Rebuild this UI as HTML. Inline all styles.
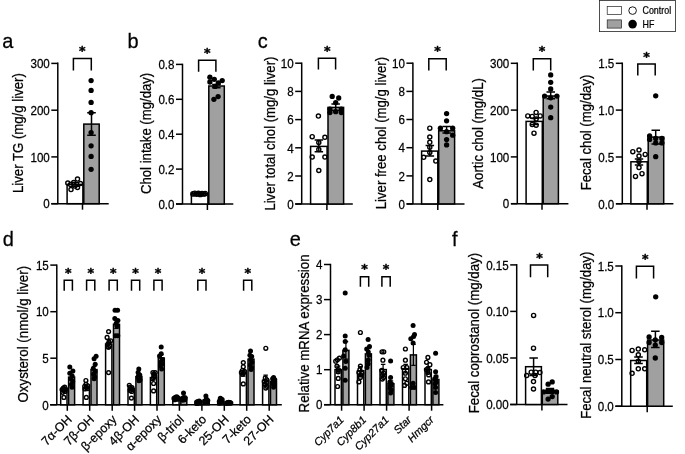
<!DOCTYPE html>
<html lang="en">
<head>
<meta charset="utf-8">
<title>Figure</title>
<style>
html,body{margin:0;padding:0;background:#fff;}
svg{display:block;}
svg text{font-family:"Liberation Sans", Arial, sans-serif;fill:#000;stroke:#000;stroke-width:0.25px;}
svg text.st{font-family:"DejaVu Sans","Liberation Sans",sans-serif;font-weight:bold;stroke-width:0.45px;}
</style>
</head>
<body>
<svg width="685" height="454" viewBox="0 0 685 454">
<rect x="0" y="0" width="685" height="454" fill="#fff"/>
<text transform="translate(2.3 48.4) scale(0.96 1)" font-size="20.8" text-anchor="start">a</text>
<path d="M57.8 62.6V203.7" fill="none" stroke="#000" stroke-width="1.5"/>
<path d="M51.3 203.7H108.7" fill="none" stroke="#000" stroke-width="1.5"/>
<line x1="51.3" y1="63.4" x2="57.8" y2="63.4" stroke="#000" stroke-width="1.5"/>
<text transform="translate(49.8 68.1) scale(0.892 1)" font-size="13" text-anchor="end">300</text>
<line x1="51.3" y1="110.2" x2="57.8" y2="110.2" stroke="#000" stroke-width="1.5"/>
<text transform="translate(49.8 114.9) scale(0.892 1)" font-size="13" text-anchor="end">200</text>
<line x1="51.3" y1="156.9" x2="57.8" y2="156.9" stroke="#000" stroke-width="1.5"/>
<text transform="translate(49.8 161.6) scale(0.892 1)" font-size="13" text-anchor="end">100</text>
<line x1="51.3" y1="203.7" x2="57.8" y2="203.7" stroke="#000" stroke-width="1.5"/>
<text transform="translate(49.8 208.4) scale(0.892 1)" font-size="13" text-anchor="end">0</text>
<line x1="82.5" y1="203.7" x2="82.5" y2="209.7" stroke="#000" stroke-width="1.5"/>
<rect x="67.1" y="184.4" width="15.8" height="19.3" fill="#fff" stroke="#000" stroke-width="1.5"/>
<rect x="83.8" y="124.1" width="15.4" height="79.6" fill="#a0a0a0" stroke="#000" stroke-width="1.5"/>
<path d="M87.2 112.7H95.8M87.2 135.2H95.8M91.5 112.7V135.2" fill="none" stroke="#000" stroke-width="1.5"/>
<path d="M70.8 182.6H79.2M70.8 186.2H79.2M75.0 182.6V186.2" fill="none" stroke="#000" stroke-width="1.5"/>
<circle cx="91.1" cy="80.6" r="2.65" fill="#000"/>
<circle cx="91.1" cy="90.4" r="2.65" fill="#000"/>
<circle cx="91.1" cy="102.4" r="2.65" fill="#000"/>
<circle cx="91.1" cy="112.7" r="2.65" fill="#000"/>
<circle cx="91.1" cy="132.6" r="2.65" fill="#000"/>
<circle cx="91.1" cy="145.8" r="2.65" fill="#000"/>
<circle cx="91.1" cy="156.4" r="2.65" fill="#000"/>
<circle cx="91.1" cy="169.3" r="2.65" fill="#000"/>
<circle cx="67.8" cy="183.1" r="2.05" fill="none" stroke="#000" stroke-width="1.4"/>
<circle cx="70.5" cy="184.4" r="2.05" fill="none" stroke="#000" stroke-width="1.4"/>
<circle cx="73.7" cy="182.6" r="2.05" fill="none" stroke="#000" stroke-width="1.4"/>
<circle cx="77.5" cy="179.1" r="2.05" fill="none" stroke="#000" stroke-width="1.4"/>
<circle cx="80.5" cy="183.5" r="2.05" fill="none" stroke="#000" stroke-width="1.4"/>
<circle cx="71.0" cy="189.6" r="2.05" fill="none" stroke="#000" stroke-width="1.4"/>
<circle cx="74.9" cy="186.1" r="2.05" fill="none" stroke="#000" stroke-width="1.4"/>
<circle cx="77.5" cy="187.4" r="2.05" fill="none" stroke="#000" stroke-width="1.4"/>
<path d="M73.4 70.5V58.5H91.3V70.5" fill="none" stroke="#000" stroke-width="1.5"/>
<text x="82.3" y="55.4" font-size="12.5" text-anchor="middle" class="st" stroke="#000" stroke-width="0.45">*</text>
<text transform="translate(23.0 133.1) rotate(-90) scale(0.95 1)" font-size="13.89" text-anchor="middle">Liver TG (mg/g liver)</text>
<text transform="translate(127.5 48.4) scale(0.96 1)" font-size="20.8" text-anchor="start">b</text>
<path d="M182.5 63.7V204.0" fill="none" stroke="#000" stroke-width="1.5"/>
<path d="M176.0 204.0H233.3" fill="none" stroke="#000" stroke-width="1.5"/>
<line x1="176.0" y1="64.4" x2="182.5" y2="64.4" stroke="#000" stroke-width="1.5"/>
<text transform="translate(174.5 69.1) scale(0.892 1)" font-size="13" text-anchor="end">0.8</text>
<line x1="176.0" y1="99.3" x2="182.5" y2="99.3" stroke="#000" stroke-width="1.5"/>
<text transform="translate(174.5 104.0) scale(0.892 1)" font-size="13" text-anchor="end">0.6</text>
<line x1="176.0" y1="134.2" x2="182.5" y2="134.2" stroke="#000" stroke-width="1.5"/>
<text transform="translate(174.5 138.9) scale(0.892 1)" font-size="13" text-anchor="end">0.4</text>
<line x1="176.0" y1="169.1" x2="182.5" y2="169.1" stroke="#000" stroke-width="1.5"/>
<text transform="translate(174.5 173.8) scale(0.892 1)" font-size="13" text-anchor="end">0.2</text>
<line x1="176.0" y1="204.0" x2="182.5" y2="204.0" stroke="#000" stroke-width="1.5"/>
<text transform="translate(174.5 208.7) scale(0.892 1)" font-size="13" text-anchor="end">0.0</text>
<line x1="207.4" y1="204.0" x2="207.4" y2="210.0" stroke="#000" stroke-width="1.5"/>
<rect x="191.4" y="193.7" width="16.5" height="10.3" fill="#fff" stroke="#000" stroke-width="1.5"/>
<rect x="208.8" y="86.0" width="15.5" height="118.0" fill="#a0a0a0" stroke="#000" stroke-width="1.5"/>
<path d="M212.1 84.5H220.6M212.1 87.8H220.6M216.3 84.5V87.8" fill="none" stroke="#000" stroke-width="1.5"/>
<circle cx="209.9" cy="77.2" r="2.65" fill="#000"/>
<circle cx="214.3" cy="79.3" r="2.65" fill="#000"/>
<circle cx="222.2" cy="80.6" r="2.65" fill="#000"/>
<circle cx="209.9" cy="82.0" r="2.65" fill="#000"/>
<circle cx="218.3" cy="82.9" r="2.65" fill="#000"/>
<circle cx="215.2" cy="86.4" r="2.65" fill="#000"/>
<circle cx="218.1" cy="96.6" r="2.65" fill="#000"/>
<circle cx="213.9" cy="99.3" r="2.65" fill="#000"/>
<circle cx="193.0" cy="193.9" r="2.15" fill="none" stroke="#000" stroke-width="1.4"/>
<circle cx="194.8" cy="193.3" r="2.15" fill="none" stroke="#000" stroke-width="1.4"/>
<circle cx="196.6" cy="194.1" r="2.15" fill="none" stroke="#000" stroke-width="1.4"/>
<circle cx="198.4" cy="193.4" r="2.15" fill="none" stroke="#000" stroke-width="1.4"/>
<circle cx="200.2" cy="194.4" r="2.15" fill="none" stroke="#000" stroke-width="1.4"/>
<circle cx="202.0" cy="193.5" r="2.15" fill="none" stroke="#000" stroke-width="1.4"/>
<circle cx="203.6" cy="194.0" r="2.15" fill="none" stroke="#000" stroke-width="1.4"/>
<circle cx="205.2" cy="193.6" r="2.15" fill="none" stroke="#000" stroke-width="1.4"/>
<path d="M198.6 71.8V60.3H215.9V71.8" fill="none" stroke="#000" stroke-width="1.5"/>
<text x="207.2" y="56.9" font-size="12.5" text-anchor="middle" class="st" stroke="#000" stroke-width="0.45">*</text>
<text transform="translate(151.3 133.4) rotate(-90) scale(0.95 1)" font-size="13.84" text-anchor="middle">Chol intake (mg/day)</text>
<text transform="translate(257.8 48.4) scale(0.96 1)" font-size="20.8" text-anchor="start">c</text>
<path d="M301.7 62.5V204.0" fill="none" stroke="#000" stroke-width="1.5"/>
<path d="M295.2 204.0H352.8" fill="none" stroke="#000" stroke-width="1.5"/>
<line x1="295.2" y1="63.2" x2="301.7" y2="63.2" stroke="#000" stroke-width="1.5"/>
<text transform="translate(293.7 67.9) scale(0.892 1)" font-size="13" text-anchor="end">10</text>
<line x1="295.2" y1="91.4" x2="301.7" y2="91.4" stroke="#000" stroke-width="1.5"/>
<text transform="translate(293.7 96.1) scale(0.892 1)" font-size="13" text-anchor="end">8</text>
<line x1="295.2" y1="119.6" x2="301.7" y2="119.6" stroke="#000" stroke-width="1.5"/>
<text transform="translate(293.7 124.3) scale(0.892 1)" font-size="13" text-anchor="end">6</text>
<line x1="295.2" y1="147.8" x2="301.7" y2="147.8" stroke="#000" stroke-width="1.5"/>
<text transform="translate(293.7 152.5) scale(0.892 1)" font-size="13" text-anchor="end">4</text>
<line x1="295.2" y1="176.0" x2="301.7" y2="176.0" stroke="#000" stroke-width="1.5"/>
<text transform="translate(293.7 180.7) scale(0.892 1)" font-size="13" text-anchor="end">2</text>
<line x1="295.2" y1="204.0" x2="301.7" y2="204.0" stroke="#000" stroke-width="1.5"/>
<text transform="translate(293.7 208.7) scale(0.892 1)" font-size="13" text-anchor="end">0</text>
<line x1="326.9" y1="204.0" x2="326.9" y2="210.0" stroke="#000" stroke-width="1.5"/>
<rect x="310.6" y="146.4" width="16.5" height="57.6" fill="#fff" stroke="#000" stroke-width="1.5"/>
<rect x="328.0" y="107.4" width="15.6" height="96.6" fill="#a0a0a0" stroke="#000" stroke-width="1.5"/>
<path d="M314.6 140.1H323.1M314.6 151.7H323.1M318.8 140.1V151.7" fill="none" stroke="#000" stroke-width="1.5"/>
<path d="M331.4 104.0H339.9M331.4 110.5H339.9M335.7 104.0V110.5" fill="none" stroke="#000" stroke-width="1.5"/>
<circle cx="318.4" cy="116.1" r="2.05" fill="none" stroke="#000" stroke-width="1.4"/>
<circle cx="312.2" cy="136.7" r="2.05" fill="none" stroke="#000" stroke-width="1.4"/>
<circle cx="324.9" cy="137.3" r="2.05" fill="none" stroke="#000" stroke-width="1.4"/>
<circle cx="318.8" cy="142.6" r="2.05" fill="none" stroke="#000" stroke-width="1.4"/>
<circle cx="318.8" cy="149.6" r="2.05" fill="none" stroke="#000" stroke-width="1.4"/>
<circle cx="312.2" cy="157.1" r="2.05" fill="none" stroke="#000" stroke-width="1.4"/>
<circle cx="324.9" cy="157.1" r="2.05" fill="none" stroke="#000" stroke-width="1.4"/>
<circle cx="318.8" cy="170.5" r="2.05" fill="none" stroke="#000" stroke-width="1.4"/>
<circle cx="332.2" cy="96.4" r="2.65" fill="#000"/>
<circle cx="338.7" cy="98.0" r="2.65" fill="#000"/>
<circle cx="335.7" cy="102.6" r="2.65" fill="#000"/>
<circle cx="329.9" cy="109.1" r="2.65" fill="#000"/>
<circle cx="335.7" cy="111.7" r="2.65" fill="#000"/>
<circle cx="341.3" cy="109.1" r="2.65" fill="#000"/>
<circle cx="329.9" cy="112.6" r="2.65" fill="#000"/>
<circle cx="341.3" cy="112.6" r="2.65" fill="#000"/>
<path d="M318.4 69.6V58.2H335.6V69.6" fill="none" stroke="#000" stroke-width="1.5"/>
<text x="327.2" y="54.9" font-size="12.5" text-anchor="middle" class="st" stroke="#000" stroke-width="0.45">*</text>
<text transform="translate(275.3 133.6) rotate(-90) scale(0.95 1)" font-size="13.84" text-anchor="middle">Liver total chol (mg/g liver)</text>
<path d="M412.9 62.5V203.9" fill="none" stroke="#000" stroke-width="1.5"/>
<path d="M406.7 203.9H464.5" fill="none" stroke="#000" stroke-width="1.5"/>
<line x1="406.4" y1="63.2" x2="412.9" y2="63.2" stroke="#000" stroke-width="1.5"/>
<text transform="translate(404.9 67.9) scale(0.892 1)" font-size="13" text-anchor="end">10</text>
<line x1="406.4" y1="91.4" x2="412.9" y2="91.4" stroke="#000" stroke-width="1.5"/>
<text transform="translate(404.9 96.1) scale(0.892 1)" font-size="13" text-anchor="end">8</text>
<line x1="406.4" y1="119.5" x2="412.9" y2="119.5" stroke="#000" stroke-width="1.5"/>
<text transform="translate(404.9 124.2) scale(0.892 1)" font-size="13" text-anchor="end">6</text>
<line x1="406.4" y1="147.7" x2="412.9" y2="147.7" stroke="#000" stroke-width="1.5"/>
<text transform="translate(404.9 152.4) scale(0.892 1)" font-size="13" text-anchor="end">4</text>
<line x1="406.4" y1="175.9" x2="412.9" y2="175.9" stroke="#000" stroke-width="1.5"/>
<text transform="translate(404.9 180.6) scale(0.892 1)" font-size="13" text-anchor="end">2</text>
<line x1="406.4" y1="203.9" x2="412.9" y2="203.9" stroke="#000" stroke-width="1.5"/>
<text transform="translate(404.9 208.6) scale(0.892 1)" font-size="13" text-anchor="end">0</text>
<line x1="437.8" y1="203.9" x2="437.8" y2="209.9" stroke="#000" stroke-width="1.5"/>
<rect x="421.6" y="151.1" width="16.2" height="52.8" fill="#fff" stroke="#000" stroke-width="1.5"/>
<rect x="438.7" y="130.8" width="15.9" height="73.1" fill="#a0a0a0" stroke="#000" stroke-width="1.5"/>
<path d="M425.6 145.5H434.1M425.6 156.0H434.1M429.8 145.5V156.0" fill="none" stroke="#000" stroke-width="1.5"/>
<path d="M442.4 126.4H450.9M442.4 133.0H450.9M446.6 126.4V133.0" fill="none" stroke="#000" stroke-width="1.5"/>
<circle cx="429.8" cy="128.2" r="2.05" fill="none" stroke="#000" stroke-width="1.4"/>
<circle cx="429.8" cy="137.0" r="2.05" fill="none" stroke="#000" stroke-width="1.4"/>
<circle cx="429.8" cy="142.3" r="2.05" fill="none" stroke="#000" stroke-width="1.4"/>
<circle cx="429.8" cy="147.2" r="2.05" fill="none" stroke="#000" stroke-width="1.4"/>
<circle cx="429.8" cy="152.5" r="2.05" fill="none" stroke="#000" stroke-width="1.4"/>
<circle cx="423.7" cy="157.3" r="2.05" fill="none" stroke="#000" stroke-width="1.4"/>
<circle cx="435.8" cy="161.1" r="2.05" fill="none" stroke="#000" stroke-width="1.4"/>
<circle cx="429.8" cy="179.6" r="2.05" fill="none" stroke="#000" stroke-width="1.4"/>
<circle cx="446.6" cy="113.6" r="2.65" fill="#000"/>
<circle cx="446.6" cy="120.8" r="2.65" fill="#000"/>
<circle cx="440.4" cy="128.2" r="2.65" fill="#000"/>
<circle cx="452.7" cy="128.2" r="2.65" fill="#000"/>
<circle cx="446.6" cy="131.7" r="2.65" fill="#000"/>
<circle cx="452.7" cy="135.2" r="2.65" fill="#000"/>
<circle cx="446.6" cy="139.6" r="2.65" fill="#000"/>
<circle cx="446.6" cy="144.9" r="2.65" fill="#000"/>
<path d="M428.8 70.5V58.8H446.2V70.5" fill="none" stroke="#000" stroke-width="1.5"/>
<text x="437.6" y="55.4" font-size="12.5" text-anchor="middle" class="st" stroke="#000" stroke-width="0.45">*</text>
<text transform="translate(385.7 133.1) rotate(-90) scale(0.95 1)" font-size="13.89" text-anchor="middle">Liver free chol (mg/g liver)</text>
<path d="M517.3 62.5V203.7" fill="none" stroke="#000" stroke-width="1.5"/>
<path d="M511.1 203.7H568.4" fill="none" stroke="#000" stroke-width="1.5"/>
<line x1="510.8" y1="63.3" x2="517.3" y2="63.3" stroke="#000" stroke-width="1.5"/>
<text transform="translate(509.3 68.0) scale(0.892 1)" font-size="13" text-anchor="end">300</text>
<line x1="510.8" y1="110.1" x2="517.3" y2="110.1" stroke="#000" stroke-width="1.5"/>
<text transform="translate(509.3 114.8) scale(0.892 1)" font-size="13" text-anchor="end">200</text>
<line x1="510.8" y1="156.9" x2="517.3" y2="156.9" stroke="#000" stroke-width="1.5"/>
<text transform="translate(509.3 161.6) scale(0.892 1)" font-size="13" text-anchor="end">100</text>
<line x1="510.8" y1="203.7" x2="517.3" y2="203.7" stroke="#000" stroke-width="1.5"/>
<text transform="translate(509.3 208.4) scale(0.892 1)" font-size="13" text-anchor="end">0</text>
<line x1="542.0" y1="203.7" x2="542.0" y2="209.7" stroke="#000" stroke-width="1.5"/>
<rect x="526.1" y="121.4" width="16.2" height="82.3" fill="#fff" stroke="#000" stroke-width="1.5"/>
<rect x="543.2" y="96.0" width="15.2" height="107.7" fill="#a0a0a0" stroke="#000" stroke-width="1.5"/>
<path d="M530.5 118.2H539.0M530.5 124.4H539.0M534.8 118.2V124.4" fill="none" stroke="#000" stroke-width="1.5"/>
<path d="M546.5 92.0H555.0M546.5 98.8H555.0M550.7 92.0V98.8" fill="none" stroke="#000" stroke-width="1.5"/>
<circle cx="536.1" cy="112.4" r="2.05" fill="none" stroke="#000" stroke-width="1.4"/>
<circle cx="527.8" cy="115.9" r="2.05" fill="none" stroke="#000" stroke-width="1.4"/>
<circle cx="532.2" cy="116.4" r="2.05" fill="none" stroke="#000" stroke-width="1.4"/>
<circle cx="540.2" cy="115.9" r="2.05" fill="none" stroke="#000" stroke-width="1.4"/>
<circle cx="536.1" cy="119.1" r="2.05" fill="none" stroke="#000" stroke-width="1.4"/>
<circle cx="532.2" cy="124.4" r="2.05" fill="none" stroke="#000" stroke-width="1.4"/>
<circle cx="536.1" cy="125.2" r="2.05" fill="none" stroke="#000" stroke-width="1.4"/>
<circle cx="534.0" cy="133.2" r="2.05" fill="none" stroke="#000" stroke-width="1.4"/>
<circle cx="550.7" cy="74.9" r="2.65" fill="#000"/>
<circle cx="550.7" cy="82.3" r="2.65" fill="#000"/>
<circle cx="550.7" cy="89.0" r="2.65" fill="#000"/>
<circle cx="544.6" cy="96.1" r="2.65" fill="#000"/>
<circle cx="556.9" cy="96.1" r="2.65" fill="#000"/>
<circle cx="550.7" cy="97.8" r="2.65" fill="#000"/>
<circle cx="550.7" cy="107.1" r="2.65" fill="#000"/>
<circle cx="550.7" cy="117.7" r="2.65" fill="#000"/>
<path d="M533.3 70.5V58.8H550.7V70.5" fill="none" stroke="#000" stroke-width="1.5"/>
<text x="541.9" y="55.4" font-size="12.5" text-anchor="middle" class="st" stroke="#000" stroke-width="0.45">*</text>
<text transform="translate(482.7 133.4) rotate(-90) scale(0.95 1)" font-size="13.89" text-anchor="middle">Aortic chol (mg/dL)</text>
<path d="M622.3 62.5V203.8" fill="none" stroke="#000" stroke-width="1.5"/>
<path d="M616.1 203.8H673.4" fill="none" stroke="#000" stroke-width="1.5"/>
<line x1="615.8" y1="63.3" x2="622.3" y2="63.3" stroke="#000" stroke-width="1.5"/>
<text transform="translate(614.3 68.0) scale(0.892 1)" font-size="13" text-anchor="end">1.5</text>
<line x1="615.8" y1="110.1" x2="622.3" y2="110.1" stroke="#000" stroke-width="1.5"/>
<text transform="translate(614.3 114.8) scale(0.892 1)" font-size="13" text-anchor="end">1.0</text>
<line x1="615.8" y1="157.0" x2="622.3" y2="157.0" stroke="#000" stroke-width="1.5"/>
<text transform="translate(614.3 161.7) scale(0.892 1)" font-size="13" text-anchor="end">0.5</text>
<line x1="615.8" y1="203.8" x2="622.3" y2="203.8" stroke="#000" stroke-width="1.5"/>
<text transform="translate(614.3 208.5) scale(0.892 1)" font-size="13" text-anchor="end">0.0</text>
<line x1="647.0" y1="203.8" x2="647.0" y2="209.8" stroke="#000" stroke-width="1.5"/>
<rect x="630.9" y="161.8" width="16.4" height="42.0" fill="#fff" stroke="#000" stroke-width="1.5"/>
<rect x="648.2" y="137.1" width="15.5" height="66.7" fill="#a0a0a0" stroke="#000" stroke-width="1.5"/>
<path d="M634.8 159.1H643.2M634.8 164.9H643.2M639.0 159.1V164.9" fill="none" stroke="#000" stroke-width="1.5"/>
<path d="M651.5 130.3H660.0M651.5 144.0H660.0M655.7 130.3V144.0" fill="none" stroke="#000" stroke-width="1.5"/>
<circle cx="632.8" cy="151.7" r="2.05" fill="none" stroke="#000" stroke-width="1.4"/>
<circle cx="639.0" cy="150.0" r="2.05" fill="none" stroke="#000" stroke-width="1.4"/>
<circle cx="645.2" cy="154.4" r="2.05" fill="none" stroke="#000" stroke-width="1.4"/>
<circle cx="639.0" cy="156.1" r="2.05" fill="none" stroke="#000" stroke-width="1.4"/>
<circle cx="639.0" cy="161.4" r="2.05" fill="none" stroke="#000" stroke-width="1.4"/>
<circle cx="639.0" cy="167.6" r="2.05" fill="none" stroke="#000" stroke-width="1.4"/>
<circle cx="642.0" cy="173.7" r="2.05" fill="none" stroke="#000" stroke-width="1.4"/>
<circle cx="635.5" cy="176.4" r="2.05" fill="none" stroke="#000" stroke-width="1.4"/>
<circle cx="655.7" cy="95.8" r="2.65" fill="#000"/>
<circle cx="649.6" cy="135.9" r="2.65" fill="#000"/>
<circle cx="649.6" cy="139.4" r="2.65" fill="#000"/>
<circle cx="655.7" cy="138.5" r="2.65" fill="#000"/>
<circle cx="661.9" cy="138.5" r="2.65" fill="#000"/>
<circle cx="655.7" cy="142.9" r="2.65" fill="#000"/>
<circle cx="661.9" cy="142.9" r="2.65" fill="#000"/>
<circle cx="655.7" cy="156.7" r="2.65" fill="#000"/>
<path d="M637.8 75.6V64.0H655.2V75.6" fill="none" stroke="#000" stroke-width="1.5"/>
<text x="646.4" y="60.9" font-size="12.5" text-anchor="middle" class="st" stroke="#000" stroke-width="0.45">*</text>
<text transform="translate(590.9 132.5) rotate(-90) scale(0.95 1)" font-size="13.89" text-anchor="middle">Fecal chol (mg/day)</text>
<rect x="599.5" y="0.5" width="75.9" height="31.1" fill="#fff" stroke="#222" stroke-width="0.8"/>
<rect x="607.2" y="6.4" width="14.4" height="8.2" fill="#fff" stroke="#222" stroke-width="0.7"/>
<rect x="607.2" y="19.9" width="14.4" height="8.2" fill="#a0a0a0" stroke="#222" stroke-width="0.7"/>
<circle cx="632.6" cy="10.6" r="3.8" fill="#fff" stroke="#000" stroke-width="0.9"/>
<circle cx="632.6" cy="24.1" r="4.3" fill="#000"/>
<text transform="translate(642.5 14.3) scale(0.845 1)" font-size="10.5" text-anchor="start">Control</text>
<text transform="translate(642.5 27.9) scale(0.845 1)" font-size="10.5" text-anchor="start">HF</text>
<text transform="translate(2.7 246.4) scale(0.96 1)" font-size="20.8" text-anchor="start">d</text>
<path d="M56.8 264.4V404.8" fill="none" stroke="#000" stroke-width="1.5"/>
<path d="M50.0 404.8H281.8" fill="none" stroke="#000" stroke-width="1.5"/>
<line x1="50.3" y1="265.1" x2="56.8" y2="265.1" stroke="#000" stroke-width="1.5"/>
<text transform="translate(48.8 269.8) scale(0.892 1)" font-size="13" text-anchor="end">15</text>
<line x1="50.3" y1="311.7" x2="56.8" y2="311.7" stroke="#000" stroke-width="1.5"/>
<text transform="translate(48.8 316.4) scale(0.892 1)" font-size="13" text-anchor="end">10</text>
<line x1="50.3" y1="358.2" x2="56.8" y2="358.2" stroke="#000" stroke-width="1.5"/>
<text transform="translate(48.8 362.9) scale(0.892 1)" font-size="13" text-anchor="end">5</text>
<line x1="50.3" y1="404.8" x2="56.8" y2="404.8" stroke="#000" stroke-width="1.5"/>
<text transform="translate(48.8 409.5) scale(0.892 1)" font-size="13" text-anchor="end">0</text>
<line x1="67.3" y1="404.8" x2="67.3" y2="410.8" stroke="#000" stroke-width="1.5"/>
<rect x="60.7" y="389.8" width="6.3" height="15.0" fill="#fff" stroke="#000" stroke-width="1.5"/>
<rect x="68.6" y="377.1" width="6.0" height="27.7" fill="#a0a0a0" stroke="#000" stroke-width="1.5"/>
<path d="M61.5 388.4H66.0M61.5 391.2H66.0M63.8 388.4V391.2" fill="none" stroke="#000" stroke-width="1.2"/>
<path d="M69.3 374.3H73.8M69.3 379.9H73.8M71.6 374.3V379.9" fill="none" stroke="#000" stroke-width="1.2"/>
<circle cx="62.7" cy="392.3" r="1.90" fill="none" stroke="#000" stroke-width="1.4"/>
<circle cx="65.1" cy="391.4" r="1.90" fill="none" stroke="#000" stroke-width="1.4"/>
<circle cx="63.9" cy="390.4" r="1.90" fill="none" stroke="#000" stroke-width="1.4"/>
<circle cx="62.1" cy="389.5" r="1.90" fill="none" stroke="#000" stroke-width="1.4"/>
<circle cx="65.5" cy="389.0" r="1.90" fill="none" stroke="#000" stroke-width="1.4"/>
<circle cx="63.3" cy="388.1" r="1.90" fill="none" stroke="#000" stroke-width="1.4"/>
<circle cx="64.7" cy="387.2" r="1.90" fill="none" stroke="#000" stroke-width="1.4"/>
<circle cx="63.9" cy="397.4" r="1.90" fill="none" stroke="#000" stroke-width="1.4"/>
<circle cx="69.8" cy="367.0" r="2.50" fill="#000"/>
<circle cx="72.9" cy="371.0" r="2.50" fill="#000"/>
<circle cx="69.8" cy="373.3" r="2.50" fill="#000"/>
<circle cx="72.2" cy="376.1" r="2.50" fill="#000"/>
<circle cx="70.9" cy="378.8" r="2.50" fill="#000"/>
<circle cx="72.7" cy="381.6" r="2.50" fill="#000"/>
<circle cx="71.4" cy="384.4" r="2.50" fill="#000"/>
<circle cx="72.0" cy="387.2" r="2.50" fill="#000"/>
<text transform="translate(72.5 420.2) rotate(-45)" font-size="12.4" text-anchor="end">7α-OH</text>
<line x1="89.7" y1="404.8" x2="89.7" y2="410.8" stroke="#000" stroke-width="1.5"/>
<rect x="83.1" y="388.1" width="6.3" height="16.7" fill="#fff" stroke="#000" stroke-width="1.5"/>
<rect x="91.0" y="369.6" width="6.0" height="35.2" fill="#a0a0a0" stroke="#000" stroke-width="1.5"/>
<path d="M84.0 386.3H88.5M84.0 390.0H88.5M86.2 386.3V390.0" fill="none" stroke="#000" stroke-width="1.2"/>
<path d="M91.8 366.3H96.3M91.8 372.8H96.3M94.0 366.3V372.8" fill="none" stroke="#000" stroke-width="1.2"/>
<circle cx="85.9" cy="380.5" r="1.90" fill="none" stroke="#000" stroke-width="1.4"/>
<circle cx="85.0" cy="389.0" r="1.90" fill="none" stroke="#000" stroke-width="1.4"/>
<circle cx="87.5" cy="388.6" r="1.90" fill="none" stroke="#000" stroke-width="1.4"/>
<circle cx="86.3" cy="387.2" r="1.90" fill="none" stroke="#000" stroke-width="1.4"/>
<circle cx="84.7" cy="386.3" r="1.90" fill="none" stroke="#000" stroke-width="1.4"/>
<circle cx="87.8" cy="385.8" r="1.90" fill="none" stroke="#000" stroke-width="1.4"/>
<circle cx="86.0" cy="384.4" r="1.90" fill="none" stroke="#000" stroke-width="1.4"/>
<circle cx="86.3" cy="397.4" r="1.90" fill="none" stroke="#000" stroke-width="1.4"/>
<circle cx="96.1" cy="356.2" r="2.50" fill="#000"/>
<circle cx="94.1" cy="358.7" r="2.50" fill="#000"/>
<circle cx="95.2" cy="364.3" r="2.50" fill="#000"/>
<circle cx="93.3" cy="368.6" r="2.50" fill="#000"/>
<circle cx="95.0" cy="371.4" r="2.50" fill="#000"/>
<circle cx="93.6" cy="374.2" r="2.50" fill="#000"/>
<circle cx="94.7" cy="377.0" r="2.50" fill="#000"/>
<circle cx="94.1" cy="378.8" r="2.50" fill="#000"/>
<text transform="translate(94.9 420.2) rotate(-45)" font-size="12.4" text-anchor="end">7β-OH</text>
<line x1="112.2" y1="404.8" x2="112.2" y2="410.8" stroke="#000" stroke-width="1.5"/>
<rect x="105.6" y="344.1" width="6.3" height="60.7" fill="#fff" stroke="#000" stroke-width="1.5"/>
<rect x="113.5" y="324.3" width="6.0" height="80.5" fill="#a0a0a0" stroke="#000" stroke-width="1.5"/>
<path d="M106.4 339.9H110.9M106.4 348.3H110.9M108.7 339.9V348.3" fill="none" stroke="#000" stroke-width="1.2"/>
<path d="M114.2 320.2H118.7M114.2 328.5H118.7M116.5 320.2V328.5" fill="none" stroke="#000" stroke-width="1.2"/>
<circle cx="108.6" cy="331.6" r="1.90" fill="none" stroke="#000" stroke-width="1.4"/>
<circle cx="107.1" cy="337.4" r="1.90" fill="none" stroke="#000" stroke-width="1.4"/>
<circle cx="110.7" cy="340.8" r="1.90" fill="none" stroke="#000" stroke-width="1.4"/>
<circle cx="109.0" cy="342.2" r="1.90" fill="none" stroke="#000" stroke-width="1.4"/>
<circle cx="107.9" cy="344.1" r="1.90" fill="none" stroke="#000" stroke-width="1.4"/>
<circle cx="109.5" cy="345.8" r="1.90" fill="none" stroke="#000" stroke-width="1.4"/>
<circle cx="108.5" cy="347.3" r="1.90" fill="none" stroke="#000" stroke-width="1.4"/>
<circle cx="108.6" cy="372.6" r="1.90" fill="none" stroke="#000" stroke-width="1.4"/>
<circle cx="115.0" cy="310.2" r="2.50" fill="#000"/>
<circle cx="117.6" cy="310.2" r="2.50" fill="#000"/>
<circle cx="114.8" cy="318.6" r="2.50" fill="#000"/>
<circle cx="117.9" cy="320.4" r="2.50" fill="#000"/>
<circle cx="116.2" cy="323.2" r="2.50" fill="#000"/>
<circle cx="116.9" cy="326.0" r="2.50" fill="#000"/>
<circle cx="115.4" cy="335.7" r="2.50" fill="#000"/>
<circle cx="117.8" cy="335.7" r="2.50" fill="#000"/>
<text transform="translate(117.4 420.2) rotate(-45)" font-size="12.4" text-anchor="end">β-epoxy</text>
<line x1="134.6" y1="404.8" x2="134.6" y2="410.8" stroke="#000" stroke-width="1.5"/>
<rect x="128.0" y="389.0" width="6.3" height="15.8" fill="#fff" stroke="#000" stroke-width="1.5"/>
<rect x="135.9" y="376.7" width="6.0" height="28.1" fill="#a0a0a0" stroke="#000" stroke-width="1.5"/>
<path d="M128.8 387.7H133.3M128.8 390.4H133.3M131.1 387.7V390.4" fill="none" stroke="#000" stroke-width="1.2"/>
<path d="M136.6 374.4H141.1M136.6 379.0H141.1M138.9 374.4V379.0" fill="none" stroke="#000" stroke-width="1.2"/>
<circle cx="129.3" cy="385.3" r="1.90" fill="none" stroke="#000" stroke-width="1.4"/>
<circle cx="131.7" cy="391.4" r="1.90" fill="none" stroke="#000" stroke-width="1.4"/>
<circle cx="130.2" cy="390.4" r="1.90" fill="none" stroke="#000" stroke-width="1.4"/>
<circle cx="132.4" cy="389.5" r="1.90" fill="none" stroke="#000" stroke-width="1.4"/>
<circle cx="130.9" cy="388.6" r="1.90" fill="none" stroke="#000" stroke-width="1.4"/>
<circle cx="132.0" cy="387.7" r="1.90" fill="none" stroke="#000" stroke-width="1.4"/>
<circle cx="130.0" cy="387.2" r="1.90" fill="none" stroke="#000" stroke-width="1.4"/>
<circle cx="131.4" cy="398.1" r="1.90" fill="none" stroke="#000" stroke-width="1.4"/>
<circle cx="138.8" cy="369.1" r="2.50" fill="#000"/>
<circle cx="138.1" cy="372.6" r="2.50" fill="#000"/>
<circle cx="139.8" cy="375.1" r="2.50" fill="#000"/>
<circle cx="138.2" cy="376.5" r="2.50" fill="#000"/>
<circle cx="139.5" cy="377.9" r="2.50" fill="#000"/>
<circle cx="138.7" cy="378.8" r="2.50" fill="#000"/>
<circle cx="140.0" cy="379.8" r="2.50" fill="#000"/>
<circle cx="139.0" cy="380.7" r="2.50" fill="#000"/>
<text transform="translate(139.8 420.2) rotate(-45)" font-size="12.4" text-anchor="end">4β-OH</text>
<line x1="157.0" y1="404.8" x2="157.0" y2="410.8" stroke="#000" stroke-width="1.5"/>
<rect x="150.4" y="377.6" width="6.3" height="27.2" fill="#fff" stroke="#000" stroke-width="1.5"/>
<rect x="158.3" y="358.0" width="6.0" height="46.8" fill="#a0a0a0" stroke="#000" stroke-width="1.5"/>
<path d="M151.3 375.3H155.8M151.3 380.0H155.8M153.5 375.3V380.0" fill="none" stroke="#000" stroke-width="1.2"/>
<path d="M159.1 354.7H163.6M159.1 361.2H163.6M161.3 354.7V361.2" fill="none" stroke="#000" stroke-width="1.2"/>
<circle cx="152.9" cy="372.6" r="1.90" fill="none" stroke="#000" stroke-width="1.4"/>
<circle cx="155.2" cy="372.6" r="1.90" fill="none" stroke="#000" stroke-width="1.4"/>
<circle cx="154.0" cy="374.2" r="1.90" fill="none" stroke="#000" stroke-width="1.4"/>
<circle cx="154.8" cy="376.1" r="1.90" fill="none" stroke="#000" stroke-width="1.4"/>
<circle cx="153.6" cy="377.5" r="1.90" fill="none" stroke="#000" stroke-width="1.4"/>
<circle cx="152.6" cy="378.8" r="1.90" fill="none" stroke="#000" stroke-width="1.4"/>
<circle cx="153.6" cy="383.5" r="1.90" fill="none" stroke="#000" stroke-width="1.4"/>
<circle cx="153.6" cy="390.9" r="1.90" fill="none" stroke="#000" stroke-width="1.4"/>
<circle cx="161.2" cy="346.9" r="2.50" fill="#000"/>
<circle cx="161.2" cy="353.8" r="2.50" fill="#000"/>
<circle cx="159.5" cy="355.9" r="2.50" fill="#000"/>
<circle cx="162.2" cy="359.4" r="2.50" fill="#000"/>
<circle cx="160.8" cy="362.2" r="2.50" fill="#000"/>
<circle cx="162.4" cy="364.0" r="2.50" fill="#000"/>
<circle cx="160.4" cy="365.9" r="2.50" fill="#000"/>
<circle cx="161.6" cy="369.1" r="2.50" fill="#000"/>
<text transform="translate(162.2 420.2) rotate(-45)" font-size="12.4" text-anchor="end">α-epoxy</text>
<line x1="179.4" y1="404.8" x2="179.4" y2="410.8" stroke="#000" stroke-width="1.5"/>
<rect x="172.8" y="399.1" width="6.3" height="5.7" fill="#fff" stroke="#000" stroke-width="1.5"/>
<rect x="180.8" y="397.8" width="6.0" height="7.0" fill="#a0a0a0" stroke="#000" stroke-width="1.5"/>
<path d="M173.7 398.3H178.2M173.7 399.8H178.2M175.9 398.3V399.8" fill="none" stroke="#000" stroke-width="1.2"/>
<path d="M181.5 396.9H186.0M181.5 398.8H186.0M183.8 396.9V398.8" fill="none" stroke="#000" stroke-width="1.2"/>
<circle cx="174.5" cy="399.7" r="1.90" fill="none" stroke="#000" stroke-width="1.4"/>
<circle cx="177.5" cy="399.2" r="1.90" fill="none" stroke="#000" stroke-width="1.4"/>
<circle cx="176.0" cy="398.8" r="1.90" fill="none" stroke="#000" stroke-width="1.4"/>
<circle cx="174.0" cy="398.3" r="1.90" fill="none" stroke="#000" stroke-width="1.4"/>
<circle cx="177.8" cy="397.8" r="1.90" fill="none" stroke="#000" stroke-width="1.4"/>
<circle cx="175.4" cy="397.4" r="1.90" fill="none" stroke="#000" stroke-width="1.4"/>
<circle cx="176.8" cy="396.9" r="1.90" fill="none" stroke="#000" stroke-width="1.4"/>
<circle cx="176.3" cy="398.3" r="1.90" fill="none" stroke="#000" stroke-width="1.4"/>
<circle cx="183.5" cy="393.0" r="2.50" fill="#000"/>
<circle cx="182.8" cy="400.2" r="2.50" fill="#000"/>
<circle cx="184.8" cy="399.7" r="2.50" fill="#000"/>
<circle cx="183.8" cy="398.8" r="2.50" fill="#000"/>
<circle cx="182.3" cy="398.3" r="2.50" fill="#000"/>
<circle cx="185.2" cy="397.8" r="2.50" fill="#000"/>
<circle cx="183.8" cy="397.4" r="2.50" fill="#000"/>
<circle cx="184.3" cy="399.2" r="2.50" fill="#000"/>
<text transform="translate(184.6 420.2) rotate(-45)" font-size="12.4" text-anchor="end">β-triol</text>
<line x1="201.9" y1="404.8" x2="201.9" y2="410.8" stroke="#000" stroke-width="1.5"/>
<rect x="195.3" y="402.5" width="6.3" height="2.3" fill="#fff" stroke="#000" stroke-width="1.5"/>
<rect x="203.2" y="400.2" width="6.0" height="4.6" fill="#a0a0a0" stroke="#000" stroke-width="1.5"/>
<path d="M196.1 402.0H200.6M196.1 402.9H200.6M198.4 402.0V402.9" fill="none" stroke="#000" stroke-width="1.2"/>
<path d="M203.9 399.2H208.4M203.9 401.1H208.4M206.2 399.2V401.1" fill="none" stroke="#000" stroke-width="1.2"/>
<circle cx="197.0" cy="403.4" r="1.90" fill="none" stroke="#000" stroke-width="1.4"/>
<circle cx="199.7" cy="402.9" r="1.90" fill="none" stroke="#000" stroke-width="1.4"/>
<circle cx="198.5" cy="402.5" r="1.90" fill="none" stroke="#000" stroke-width="1.4"/>
<circle cx="196.7" cy="402.0" r="1.90" fill="none" stroke="#000" stroke-width="1.4"/>
<circle cx="200.1" cy="402.0" r="1.90" fill="none" stroke="#000" stroke-width="1.4"/>
<circle cx="198.0" cy="401.6" r="1.90" fill="none" stroke="#000" stroke-width="1.4"/>
<circle cx="199.2" cy="401.1" r="1.90" fill="none" stroke="#000" stroke-width="1.4"/>
<circle cx="198.9" cy="402.5" r="1.90" fill="none" stroke="#000" stroke-width="1.4"/>
<circle cx="205.9" cy="396.0" r="2.50" fill="#000"/>
<circle cx="205.1" cy="402.5" r="2.50" fill="#000"/>
<circle cx="207.5" cy="402.0" r="2.50" fill="#000"/>
<circle cx="206.3" cy="401.6" r="2.50" fill="#000"/>
<circle cx="204.7" cy="401.1" r="2.50" fill="#000"/>
<circle cx="207.8" cy="400.6" r="2.50" fill="#000"/>
<circle cx="206.3" cy="400.2" r="2.50" fill="#000"/>
<circle cx="206.6" cy="399.2" r="2.50" fill="#000"/>
<text transform="translate(207.1 420.2) rotate(-45)" font-size="12.4" text-anchor="end">6-keto</text>
<line x1="224.3" y1="404.8" x2="224.3" y2="410.8" stroke="#000" stroke-width="1.5"/>
<rect x="217.7" y="401.6" width="6.3" height="3.2" fill="#fff" stroke="#000" stroke-width="1.5"/>
<rect x="225.6" y="403.4" width="6.0" height="1.4" fill="#a0a0a0" stroke="#000" stroke-width="1.5"/>
<path d="M218.6 401.1H223.1M218.6 402.0H223.1M220.8 401.1V402.0" fill="none" stroke="#000" stroke-width="1.2"/>
<path d="M226.4 403.0H230.9M226.4 403.8H230.9M228.6 403.0V403.8" fill="none" stroke="#000" stroke-width="1.2"/>
<circle cx="219.9" cy="402.9" r="1.90" fill="none" stroke="#000" stroke-width="1.4"/>
<circle cx="221.9" cy="402.0" r="1.90" fill="none" stroke="#000" stroke-width="1.4"/>
<circle cx="219.4" cy="401.6" r="1.90" fill="none" stroke="#000" stroke-width="1.4"/>
<circle cx="221.4" cy="400.6" r="1.90" fill="none" stroke="#000" stroke-width="1.4"/>
<circle cx="220.1" cy="400.2" r="1.90" fill="none" stroke="#000" stroke-width="1.4"/>
<circle cx="222.1" cy="399.7" r="1.90" fill="none" stroke="#000" stroke-width="1.4"/>
<circle cx="220.9" cy="399.2" r="1.90" fill="none" stroke="#000" stroke-width="1.4"/>
<circle cx="220.4" cy="398.3" r="1.90" fill="none" stroke="#000" stroke-width="1.4"/>
<circle cx="226.7" cy="403.4" r="2.50" fill="#000"/>
<circle cx="227.9" cy="403.1" r="2.50" fill="#000"/>
<circle cx="229.1" cy="402.9" r="2.50" fill="#000"/>
<circle cx="230.3" cy="402.8" r="2.50" fill="#000"/>
<circle cx="227.3" cy="402.5" r="2.50" fill="#000"/>
<circle cx="229.7" cy="402.5" r="2.50" fill="#000"/>
<circle cx="228.7" cy="402.2" r="2.50" fill="#000"/>
<circle cx="230.9" cy="402.9" r="2.50" fill="#000"/>
<text transform="translate(229.5 420.2) rotate(-45)" font-size="12.4" text-anchor="end">25-OH</text>
<line x1="246.7" y1="404.8" x2="246.7" y2="410.8" stroke="#000" stroke-width="1.5"/>
<rect x="240.1" y="373.3" width="6.3" height="31.5" fill="#fff" stroke="#000" stroke-width="1.5"/>
<rect x="248.0" y="359.2" width="6.0" height="45.6" fill="#a0a0a0" stroke="#000" stroke-width="1.5"/>
<path d="M241.0 370.5H245.5M241.0 376.1H245.5M243.2 370.5V376.1" fill="none" stroke="#000" stroke-width="1.2"/>
<path d="M248.8 356.4H253.3M248.8 362.0H253.3M251.0 356.4V362.0" fill="none" stroke="#000" stroke-width="1.2"/>
<circle cx="243.3" cy="362.6" r="1.90" fill="none" stroke="#000" stroke-width="1.4"/>
<circle cx="243.3" cy="366.8" r="1.90" fill="none" stroke="#000" stroke-width="1.4"/>
<circle cx="242.3" cy="370.5" r="1.90" fill="none" stroke="#000" stroke-width="1.4"/>
<circle cx="244.5" cy="371.4" r="1.90" fill="none" stroke="#000" stroke-width="1.4"/>
<circle cx="241.4" cy="372.4" r="1.90" fill="none" stroke="#000" stroke-width="1.4"/>
<circle cx="243.6" cy="372.8" r="1.90" fill="none" stroke="#000" stroke-width="1.4"/>
<circle cx="242.7" cy="374.2" r="1.90" fill="none" stroke="#000" stroke-width="1.4"/>
<circle cx="243.3" cy="383.9" r="1.90" fill="none" stroke="#000" stroke-width="1.4"/>
<circle cx="250.5" cy="351.0" r="2.50" fill="#000"/>
<circle cx="249.9" cy="355.2" r="2.50" fill="#000"/>
<circle cx="251.7" cy="356.6" r="2.50" fill="#000"/>
<circle cx="250.6" cy="359.4" r="2.50" fill="#000"/>
<circle cx="251.9" cy="362.2" r="2.50" fill="#000"/>
<circle cx="250.3" cy="364.9" r="2.50" fill="#000"/>
<circle cx="251.6" cy="367.7" r="2.50" fill="#000"/>
<circle cx="251.1" cy="369.6" r="2.50" fill="#000"/>
<text transform="translate(251.9 420.2) rotate(-45)" font-size="12.4" text-anchor="end">7-keto</text>
<line x1="269.2" y1="404.8" x2="269.2" y2="410.8" stroke="#000" stroke-width="1.5"/>
<rect x="262.6" y="380.2" width="6.3" height="24.6" fill="#fff" stroke="#000" stroke-width="1.5"/>
<rect x="270.5" y="381.6" width="6.0" height="23.2" fill="#a0a0a0" stroke="#000" stroke-width="1.5"/>
<path d="M263.4 375.1H267.9M263.4 385.3H267.9M265.7 375.1V385.3" fill="none" stroke="#000" stroke-width="1.2"/>
<path d="M271.2 380.5H275.7M271.2 382.7H275.7M273.5 380.5V382.7" fill="none" stroke="#000" stroke-width="1.2"/>
<circle cx="265.8" cy="348.3" r="1.90" fill="none" stroke="#000" stroke-width="1.4"/>
<circle cx="265.3" cy="377.9" r="1.90" fill="none" stroke="#000" stroke-width="1.4"/>
<circle cx="266.8" cy="379.8" r="1.90" fill="none" stroke="#000" stroke-width="1.4"/>
<circle cx="264.3" cy="381.6" r="1.90" fill="none" stroke="#000" stroke-width="1.4"/>
<circle cx="266.3" cy="382.6" r="1.90" fill="none" stroke="#000" stroke-width="1.4"/>
<circle cx="265.0" cy="384.4" r="1.90" fill="none" stroke="#000" stroke-width="1.4"/>
<circle cx="266.8" cy="386.3" r="1.90" fill="none" stroke="#000" stroke-width="1.4"/>
<circle cx="265.8" cy="388.1" r="1.90" fill="none" stroke="#000" stroke-width="1.4"/>
<circle cx="273.6" cy="377.5" r="2.50" fill="#000"/>
<circle cx="272.6" cy="378.8" r="2.50" fill="#000"/>
<circle cx="274.8" cy="379.8" r="2.50" fill="#000"/>
<circle cx="273.2" cy="381.2" r="2.50" fill="#000"/>
<circle cx="274.5" cy="382.6" r="2.50" fill="#000"/>
<circle cx="272.4" cy="383.5" r="2.50" fill="#000"/>
<circle cx="274.1" cy="385.3" r="2.50" fill="#000"/>
<circle cx="273.6" cy="387.2" r="2.50" fill="#000"/>
<text transform="translate(274.4 420.2) rotate(-45)" font-size="12.4" text-anchor="end">27-OH</text>
<path d="M64.2 290.7V280.3H72.4V290.7" fill="none" stroke="#000" stroke-width="1.5"/>
<text x="68.3" y="276.5" font-size="12.5" text-anchor="middle" class="st" stroke="#000" stroke-width="0.45">*</text>
<path d="M86.6 290.7V280.3H94.8V290.7" fill="none" stroke="#000" stroke-width="1.5"/>
<text x="90.7" y="276.5" font-size="12.5" text-anchor="middle" class="st" stroke="#000" stroke-width="0.45">*</text>
<path d="M109.1 290.7V280.3H117.3V290.7" fill="none" stroke="#000" stroke-width="1.5"/>
<text x="113.2" y="276.5" font-size="12.5" text-anchor="middle" class="st" stroke="#000" stroke-width="0.45">*</text>
<path d="M131.5 290.7V280.3H139.7V290.7" fill="none" stroke="#000" stroke-width="1.5"/>
<text x="135.6" y="276.5" font-size="12.5" text-anchor="middle" class="st" stroke="#000" stroke-width="0.45">*</text>
<path d="M153.9 290.7V280.3H162.1V290.7" fill="none" stroke="#000" stroke-width="1.5"/>
<text x="158.0" y="276.5" font-size="12.5" text-anchor="middle" class="st" stroke="#000" stroke-width="0.45">*</text>
<path d="M197.8 290.7V280.3H206.0V290.7" fill="none" stroke="#000" stroke-width="1.5"/>
<text x="201.9" y="276.5" font-size="12.5" text-anchor="middle" class="st" stroke="#000" stroke-width="0.45">*</text>
<path d="M243.6 290.7V280.3H251.8V290.7" fill="none" stroke="#000" stroke-width="1.5"/>
<text x="247.7" y="276.5" font-size="12.5" text-anchor="middle" class="st" stroke="#000" stroke-width="0.45">*</text>
<text transform="translate(28.2 334.2) rotate(-90) scale(0.95 1)" font-size="14.00" text-anchor="middle">Oxysterol (nmol/g liver)</text>
<text transform="translate(289.8 246.4) scale(0.96 1)" font-size="20.8" text-anchor="start">e</text>
<path d="M330.5 263.8V404.7" fill="none" stroke="#000" stroke-width="1.5"/>
<path d="M324.1 404.7H443.4" fill="none" stroke="#000" stroke-width="1.5"/>
<line x1="324.0" y1="264.5" x2="330.5" y2="264.5" stroke="#000" stroke-width="1.5"/>
<text transform="translate(322.5 269.2) scale(0.892 1)" font-size="13" text-anchor="end">4</text>
<line x1="324.0" y1="299.6" x2="330.5" y2="299.6" stroke="#000" stroke-width="1.5"/>
<text transform="translate(322.5 304.3) scale(0.892 1)" font-size="13" text-anchor="end">3</text>
<line x1="324.0" y1="334.6" x2="330.5" y2="334.6" stroke="#000" stroke-width="1.5"/>
<text transform="translate(322.5 339.3) scale(0.892 1)" font-size="13" text-anchor="end">2</text>
<line x1="324.0" y1="369.7" x2="330.5" y2="369.7" stroke="#000" stroke-width="1.5"/>
<text transform="translate(322.5 374.4) scale(0.892 1)" font-size="13" text-anchor="end">1</text>
<line x1="324.0" y1="404.7" x2="330.5" y2="404.7" stroke="#000" stroke-width="1.5"/>
<text transform="translate(322.5 409.4) scale(0.892 1)" font-size="13" text-anchor="end">0</text>
<line x1="341.6" y1="404.7" x2="341.6" y2="410.7" stroke="#000" stroke-width="1.5"/>
<rect x="335.0" y="369.6" width="6.3" height="35.1" fill="#fff" stroke="#000" stroke-width="1.5"/>
<rect x="342.9" y="350.4" width="6.0" height="54.3" fill="#a0a0a0" stroke="#000" stroke-width="1.5"/>
<path d="M335.9 366.1H340.4M335.9 373.2H340.4M338.1 366.1V373.2" fill="none" stroke="#000" stroke-width="1.2"/>
<path d="M343.7 341.6H348.2M343.7 359.1H348.2M345.9 341.6V359.1" fill="none" stroke="#000" stroke-width="1.2"/>
<circle cx="339.4" cy="358.1" r="1.90" fill="none" stroke="#000" stroke-width="1.4"/>
<circle cx="337.4" cy="359.8" r="1.90" fill="none" stroke="#000" stroke-width="1.4"/>
<circle cx="335.7" cy="361.2" r="1.90" fill="none" stroke="#000" stroke-width="1.4"/>
<circle cx="336.9" cy="366.1" r="1.90" fill="none" stroke="#000" stroke-width="1.4"/>
<circle cx="338.4" cy="369.6" r="1.90" fill="none" stroke="#000" stroke-width="1.4"/>
<circle cx="338.2" cy="371.8" r="1.90" fill="none" stroke="#000" stroke-width="1.4"/>
<circle cx="338.2" cy="378.4" r="1.90" fill="none" stroke="#000" stroke-width="1.4"/>
<circle cx="337.6" cy="386.5" r="1.90" fill="none" stroke="#000" stroke-width="1.4"/>
<circle cx="345.2" cy="292.9" r="2.50" fill="#000"/>
<circle cx="345.2" cy="336.0" r="2.50" fill="#000"/>
<circle cx="345.2" cy="341.6" r="2.50" fill="#000"/>
<circle cx="345.2" cy="349.7" r="2.50" fill="#000"/>
<circle cx="343.6" cy="356.0" r="2.50" fill="#000"/>
<circle cx="345.8" cy="361.6" r="2.50" fill="#000"/>
<circle cx="345.2" cy="368.2" r="2.50" fill="#000"/>
<circle cx="345.2" cy="380.2" r="2.50" fill="#000"/>
<text transform="translate(344.5 420.4) rotate(-45)" font-size="10.8" text-anchor="end" font-style="italic">Cyp7a1</text>
<line x1="364.1" y1="404.7" x2="364.1" y2="410.7" stroke="#000" stroke-width="1.5"/>
<rect x="357.5" y="370.7" width="6.3" height="34.0" fill="#fff" stroke="#000" stroke-width="1.5"/>
<rect x="365.4" y="353.9" width="6.0" height="50.8" fill="#a0a0a0" stroke="#000" stroke-width="1.5"/>
<path d="M358.4 366.5H362.9M358.4 374.9H362.9M360.6 366.5V374.9" fill="none" stroke="#000" stroke-width="1.2"/>
<path d="M366.2 348.6H370.7M366.2 359.1H370.7M368.4 348.6V359.1" fill="none" stroke="#000" stroke-width="1.2"/>
<circle cx="360.4" cy="332.5" r="1.90" fill="none" stroke="#000" stroke-width="1.4"/>
<circle cx="360.4" cy="366.1" r="1.90" fill="none" stroke="#000" stroke-width="1.4"/>
<circle cx="359.9" cy="369.6" r="1.90" fill="none" stroke="#000" stroke-width="1.4"/>
<circle cx="358.9" cy="372.5" r="1.90" fill="none" stroke="#000" stroke-width="1.4"/>
<circle cx="361.8" cy="373.2" r="1.90" fill="none" stroke="#000" stroke-width="1.4"/>
<circle cx="360.7" cy="374.9" r="1.90" fill="none" stroke="#000" stroke-width="1.4"/>
<circle cx="360.4" cy="377.4" r="1.90" fill="none" stroke="#000" stroke-width="1.4"/>
<circle cx="358.9" cy="381.9" r="1.90" fill="none" stroke="#000" stroke-width="1.4"/>
<circle cx="368.1" cy="339.5" r="2.50" fill="#000"/>
<circle cx="369.5" cy="346.5" r="2.50" fill="#000"/>
<circle cx="366.7" cy="349.0" r="2.50" fill="#000"/>
<circle cx="368.3" cy="352.1" r="2.50" fill="#000"/>
<circle cx="369.0" cy="355.3" r="2.50" fill="#000"/>
<circle cx="368.1" cy="360.2" r="2.50" fill="#000"/>
<circle cx="368.1" cy="364.0" r="2.50" fill="#000"/>
<circle cx="367.0" cy="367.5" r="2.50" fill="#000"/>
<text transform="translate(367.0 420.4) rotate(-45)" font-size="10.8" text-anchor="end" font-style="italic">Cyp8b1</text>
<line x1="386.6" y1="404.7" x2="386.6" y2="410.7" stroke="#000" stroke-width="1.5"/>
<rect x="380.0" y="369.6" width="6.3" height="35.1" fill="#fff" stroke="#000" stroke-width="1.5"/>
<rect x="387.9" y="383.7" width="6.0" height="21.0" fill="#a0a0a0" stroke="#000" stroke-width="1.5"/>
<path d="M380.9 364.4H385.4M380.9 374.9H385.4M383.1 364.4V374.9" fill="none" stroke="#000" stroke-width="1.2"/>
<path d="M388.7 380.9H393.2M388.7 386.5H393.2M390.9 380.9V386.5" fill="none" stroke="#000" stroke-width="1.2"/>
<circle cx="382.0" cy="351.8" r="1.90" fill="none" stroke="#000" stroke-width="1.4"/>
<circle cx="383.8" cy="351.8" r="1.90" fill="none" stroke="#000" stroke-width="1.4"/>
<circle cx="382.9" cy="360.2" r="1.90" fill="none" stroke="#000" stroke-width="1.4"/>
<circle cx="381.9" cy="370.4" r="1.90" fill="none" stroke="#000" stroke-width="1.4"/>
<circle cx="383.7" cy="373.2" r="1.90" fill="none" stroke="#000" stroke-width="1.4"/>
<circle cx="382.6" cy="374.9" r="1.90" fill="none" stroke="#000" stroke-width="1.4"/>
<circle cx="383.5" cy="377.4" r="1.90" fill="none" stroke="#000" stroke-width="1.4"/>
<circle cx="382.3" cy="379.1" r="1.90" fill="none" stroke="#000" stroke-width="1.4"/>
<circle cx="390.6" cy="360.9" r="2.50" fill="#000"/>
<circle cx="390.6" cy="377.4" r="2.50" fill="#000"/>
<circle cx="389.8" cy="381.9" r="2.50" fill="#000"/>
<circle cx="391.4" cy="383.7" r="2.50" fill="#000"/>
<circle cx="390.6" cy="385.4" r="2.50" fill="#000"/>
<circle cx="390.0" cy="387.9" r="2.50" fill="#000"/>
<circle cx="391.2" cy="390.0" r="2.50" fill="#000"/>
<circle cx="390.6" cy="393.1" r="2.50" fill="#000"/>
<text transform="translate(389.5 420.4) rotate(-45)" font-size="10.8" text-anchor="end" font-style="italic">Cyp27a1</text>
<line x1="409.1" y1="404.7" x2="409.1" y2="410.7" stroke="#000" stroke-width="1.5"/>
<rect x="402.5" y="368.6" width="6.3" height="36.1" fill="#fff" stroke="#000" stroke-width="1.5"/>
<rect x="410.4" y="354.9" width="6.0" height="49.8" fill="#a0a0a0" stroke="#000" stroke-width="1.5"/>
<path d="M403.4 364.4H407.9M403.4 372.8H407.9M405.6 364.4V372.8" fill="none" stroke="#000" stroke-width="1.2"/>
<path d="M411.2 344.4H415.7M411.2 365.4H415.7M413.4 344.4V365.4" fill="none" stroke="#000" stroke-width="1.2"/>
<circle cx="405.4" cy="349.0" r="1.90" fill="none" stroke="#000" stroke-width="1.4"/>
<circle cx="405.4" cy="360.2" r="1.90" fill="none" stroke="#000" stroke-width="1.4"/>
<circle cx="403.2" cy="367.5" r="1.90" fill="none" stroke="#000" stroke-width="1.4"/>
<circle cx="406.9" cy="367.5" r="1.90" fill="none" stroke="#000" stroke-width="1.4"/>
<circle cx="405.4" cy="373.2" r="1.90" fill="none" stroke="#000" stroke-width="1.4"/>
<circle cx="405.4" cy="378.8" r="1.90" fill="none" stroke="#000" stroke-width="1.4"/>
<circle cx="406.8" cy="383.3" r="1.90" fill="none" stroke="#000" stroke-width="1.4"/>
<circle cx="404.5" cy="385.4" r="1.90" fill="none" stroke="#000" stroke-width="1.4"/>
<circle cx="413.1" cy="325.5" r="2.50" fill="#000"/>
<circle cx="414.5" cy="334.6" r="2.50" fill="#000"/>
<circle cx="413.6" cy="336.4" r="2.50" fill="#000"/>
<circle cx="410.8" cy="338.8" r="2.50" fill="#000"/>
<circle cx="413.1" cy="343.0" r="2.50" fill="#000"/>
<circle cx="413.1" cy="383.3" r="2.50" fill="#000"/>
<circle cx="411.7" cy="387.5" r="2.50" fill="#000"/>
<circle cx="414.5" cy="387.5" r="2.50" fill="#000"/>
<text transform="translate(412.0 420.4) rotate(-45)" font-size="10.8" text-anchor="end" font-style="italic">Star</text>
<line x1="431.6" y1="404.7" x2="431.6" y2="410.7" stroke="#000" stroke-width="1.5"/>
<rect x="425.0" y="369.6" width="6.3" height="35.1" fill="#fff" stroke="#000" stroke-width="1.5"/>
<rect x="432.9" y="379.5" width="6.0" height="25.2" fill="#a0a0a0" stroke="#000" stroke-width="1.5"/>
<path d="M425.9 366.8H430.4M425.9 372.5H430.4M428.1 366.8V372.5" fill="none" stroke="#000" stroke-width="1.2"/>
<path d="M433.7 375.3H438.2M433.7 383.7H438.2M435.9 375.3V383.7" fill="none" stroke="#000" stroke-width="1.2"/>
<circle cx="427.9" cy="357.4" r="1.90" fill="none" stroke="#000" stroke-width="1.4"/>
<circle cx="426.5" cy="362.3" r="1.90" fill="none" stroke="#000" stroke-width="1.4"/>
<circle cx="429.9" cy="364.7" r="1.90" fill="none" stroke="#000" stroke-width="1.4"/>
<circle cx="427.9" cy="368.9" r="1.90" fill="none" stroke="#000" stroke-width="1.4"/>
<circle cx="426.4" cy="369.6" r="1.90" fill="none" stroke="#000" stroke-width="1.4"/>
<circle cx="427.9" cy="372.5" r="1.90" fill="none" stroke="#000" stroke-width="1.4"/>
<circle cx="428.7" cy="374.9" r="1.90" fill="none" stroke="#000" stroke-width="1.4"/>
<circle cx="428.5" cy="381.9" r="1.90" fill="none" stroke="#000" stroke-width="1.4"/>
<circle cx="435.6" cy="353.2" r="2.50" fill="#000"/>
<circle cx="435.6" cy="371.8" r="2.50" fill="#000"/>
<circle cx="436.1" cy="376.7" r="2.50" fill="#000"/>
<circle cx="434.7" cy="378.8" r="2.50" fill="#000"/>
<circle cx="436.2" cy="381.9" r="2.50" fill="#000"/>
<circle cx="435.1" cy="383.7" r="2.50" fill="#000"/>
<circle cx="435.6" cy="387.5" r="2.50" fill="#000"/>
<circle cx="435.6" cy="392.4" r="2.50" fill="#000"/>
<text transform="translate(434.5 420.4) rotate(-45)" font-size="10.8" text-anchor="end" font-style="italic">Hmgcr</text>
<path d="M360.4 286.8V276.8H368.7V286.8" fill="none" stroke="#000" stroke-width="1.5"/>
<text x="364.6" y="273.0" font-size="12.5" text-anchor="middle" class="st" stroke="#000" stroke-width="0.45">*</text>
<path d="M381.9 286.8V276.8H390.2V286.8" fill="none" stroke="#000" stroke-width="1.5"/>
<text x="386.1" y="273.0" font-size="12.5" text-anchor="middle" class="st" stroke="#000" stroke-width="0.45">*</text>
<text transform="translate(309.4 333.4) rotate(-90) scale(0.95 1)" font-size="14.00" text-anchor="middle">Relative mRNA expression</text>
<text transform="translate(452.0 245.7) scale(0.96 1)" font-size="20.8" text-anchor="start">f</text>
<path d="M516.7 264.1V404.5" fill="none" stroke="#000" stroke-width="1.5"/>
<path d="M510.1 404.5H567.5" fill="none" stroke="#000" stroke-width="1.5"/>
<line x1="510.2" y1="264.9" x2="516.7" y2="264.9" stroke="#000" stroke-width="1.5"/>
<text transform="translate(508.7 269.6) scale(0.892 1)" font-size="13" text-anchor="end">0.15</text>
<line x1="510.2" y1="311.4" x2="516.7" y2="311.4" stroke="#000" stroke-width="1.5"/>
<text transform="translate(508.7 316.1) scale(0.892 1)" font-size="13" text-anchor="end">0.10</text>
<line x1="510.2" y1="358.0" x2="516.7" y2="358.0" stroke="#000" stroke-width="1.5"/>
<text transform="translate(508.7 362.7) scale(0.892 1)" font-size="13" text-anchor="end">0.05</text>
<line x1="510.2" y1="404.5" x2="516.7" y2="404.5" stroke="#000" stroke-width="1.5"/>
<text transform="translate(508.7 409.2) scale(0.892 1)" font-size="13" text-anchor="end">0.00</text>
<line x1="541.9" y1="404.5" x2="541.9" y2="410.5" stroke="#000" stroke-width="1.5"/>
<rect x="525.6" y="366.7" width="15.8" height="37.8" fill="#fff" stroke="#000" stroke-width="1.5"/>
<rect x="542.3" y="390.9" width="15.5" height="13.6" fill="#a0a0a0" stroke="#000" stroke-width="1.5"/>
<path d="M529.4 357.9H537.9M529.4 375.5H537.9M533.6 357.9V375.5" fill="none" stroke="#000" stroke-width="1.5"/>
<path d="M545.8 388.6H554.2M545.8 393.2H554.2M550.0 388.6V393.2" fill="none" stroke="#000" stroke-width="1.5"/>
<circle cx="533.6" cy="315.4" r="2.05" fill="none" stroke="#000" stroke-width="1.4"/>
<circle cx="533.5" cy="348.2" r="2.05" fill="none" stroke="#000" stroke-width="1.4"/>
<circle cx="531.2" cy="372.2" r="2.05" fill="none" stroke="#000" stroke-width="1.4"/>
<circle cx="535.7" cy="372.2" r="2.05" fill="none" stroke="#000" stroke-width="1.4"/>
<circle cx="539.9" cy="372.6" r="2.05" fill="none" stroke="#000" stroke-width="1.4"/>
<circle cx="526.7" cy="375.6" r="2.05" fill="none" stroke="#000" stroke-width="1.4"/>
<circle cx="535.0" cy="375.6" r="2.05" fill="none" stroke="#000" stroke-width="1.4"/>
<circle cx="533.5" cy="381.6" r="2.05" fill="none" stroke="#000" stroke-width="1.4"/>
<circle cx="533.5" cy="389.0" r="2.05" fill="none" stroke="#000" stroke-width="1.4"/>
<circle cx="552.2" cy="381.9" r="2.65" fill="#000"/>
<circle cx="548.1" cy="384.2" r="2.65" fill="#000"/>
<circle cx="543.6" cy="391.9" r="2.65" fill="#000"/>
<circle cx="547.8" cy="391.0" r="2.65" fill="#000"/>
<circle cx="552.2" cy="391.0" r="2.65" fill="#000"/>
<circle cx="556.5" cy="391.9" r="2.65" fill="#000"/>
<circle cx="552.2" cy="396.6" r="2.65" fill="#000"/>
<circle cx="548.1" cy="399.1" r="2.65" fill="#000"/>
<path d="M530.5 277.2V265.0H547.7V277.2" fill="none" stroke="#000" stroke-width="1.5"/>
<text x="539.5" y="261.9" font-size="12.5" text-anchor="middle" class="st" stroke="#000" stroke-width="0.45">*</text>
<text transform="translate(478.9 333.1) rotate(-90) scale(0.95 1)" font-size="13.94" text-anchor="middle">Fecal coprostanol (mg/day)</text>
<path d="M621.8 265.2V406.2" fill="none" stroke="#000" stroke-width="1.5"/>
<path d="M615.4 406.2H672.8" fill="none" stroke="#000" stroke-width="1.5"/>
<line x1="615.3" y1="266.0" x2="621.8" y2="266.0" stroke="#000" stroke-width="1.5"/>
<text transform="translate(613.8 270.7) scale(0.892 1)" font-size="13" text-anchor="end">1.5</text>
<line x1="615.3" y1="312.7" x2="621.8" y2="312.7" stroke="#000" stroke-width="1.5"/>
<text transform="translate(613.8 317.4) scale(0.892 1)" font-size="13" text-anchor="end">1.0</text>
<line x1="615.3" y1="359.5" x2="621.8" y2="359.5" stroke="#000" stroke-width="1.5"/>
<text transform="translate(613.8 364.2) scale(0.892 1)" font-size="13" text-anchor="end">0.5</text>
<line x1="615.3" y1="406.2" x2="621.8" y2="406.2" stroke="#000" stroke-width="1.5"/>
<text transform="translate(613.8 410.9) scale(0.892 1)" font-size="13" text-anchor="end">0.0</text>
<line x1="647.2" y1="406.2" x2="647.2" y2="412.2" stroke="#000" stroke-width="1.5"/>
<rect x="630.7" y="360.5" width="16.0" height="45.7" fill="#fff" stroke="#000" stroke-width="1.5"/>
<rect x="647.6" y="340.0" width="16.1" height="66.2" fill="#a0a0a0" stroke="#000" stroke-width="1.5"/>
<path d="M634.2 357.0H642.8M634.2 363.5H642.8M638.5 357.0V363.5" fill="none" stroke="#000" stroke-width="1.5"/>
<path d="M651.1 331.2H659.6M651.1 347.5H659.6M655.4 331.2V347.5" fill="none" stroke="#000" stroke-width="1.5"/>
<circle cx="632.1" cy="350.4" r="2.05" fill="none" stroke="#000" stroke-width="1.4"/>
<circle cx="638.3" cy="349.1" r="2.05" fill="none" stroke="#000" stroke-width="1.4"/>
<circle cx="644.7" cy="349.8" r="2.05" fill="none" stroke="#000" stroke-width="1.4"/>
<circle cx="638.3" cy="354.8" r="2.05" fill="none" stroke="#000" stroke-width="1.4"/>
<circle cx="638.3" cy="361.2" r="2.05" fill="none" stroke="#000" stroke-width="1.4"/>
<circle cx="638.3" cy="368.8" r="2.05" fill="none" stroke="#000" stroke-width="1.4"/>
<circle cx="644.7" cy="368.8" r="2.05" fill="none" stroke="#000" stroke-width="1.4"/>
<circle cx="632.1" cy="373.3" r="2.05" fill="none" stroke="#000" stroke-width="1.4"/>
<circle cx="655.7" cy="296.8" r="2.65" fill="#000"/>
<circle cx="649.1" cy="336.9" r="2.65" fill="#000"/>
<circle cx="661.7" cy="337.5" r="2.65" fill="#000"/>
<circle cx="655.3" cy="339.8" r="2.65" fill="#000"/>
<circle cx="649.1" cy="342.5" r="2.65" fill="#000"/>
<circle cx="661.7" cy="342.5" r="2.65" fill="#000"/>
<circle cx="655.3" cy="345.1" r="2.65" fill="#000"/>
<circle cx="655.3" cy="358.0" r="2.65" fill="#000"/>
<path d="M636.4 278.4V266.3H653.6V278.4" fill="none" stroke="#000" stroke-width="1.5"/>
<text x="645.2" y="262.9" font-size="12.5" text-anchor="middle" class="st" stroke="#000" stroke-width="0.45">*</text>
<text transform="translate(591.0 335.2) rotate(-90) scale(0.95 1)" font-size="13.84" text-anchor="middle">Fecal neutral sterol (mg/day)</text>
</svg>
</body>
</html>
